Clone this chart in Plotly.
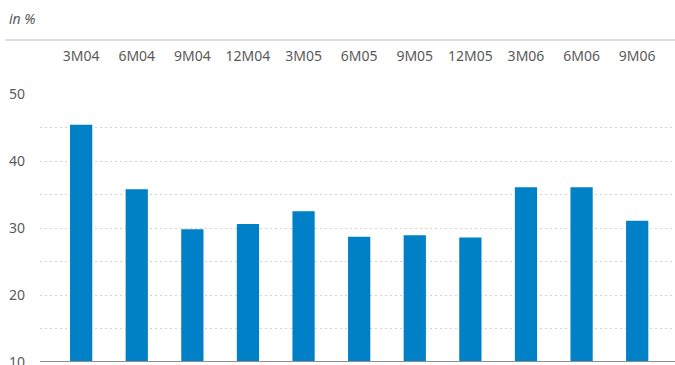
import plotly.graph_objects as go

# Quarterly periods and values (in %)
periods = ["3M04", "6M04", "9M04", "12M04", "3M05", "6M05", "9M05", "12M05", "3M06", "6M06", "9M06"]
values = [45.4, 35.8, 29.8, 30.6, 32.5, 28.7, 28.9, 28.6, 36.1, 36.1, 31.1]

font_family = "Noto Sans, Open Sans, sans-serif"
text_grey = "#5a5a5a"
grid_grey = "#d4d4d4"

fig = go.Figure()
fig.add_trace(go.Bar(
    x=periods,
    y=values,
    width=0.4,
    marker=dict(color="#0080c6", line=dict(width=0)),
))

fig.update_layout(
    width=675,
    height=365,
    margin=dict(l=40, r=0, t=94, b=3),
    plot_bgcolor="white",
    paper_bgcolor="white",
    showlegend=False,
    font=dict(family=font_family, size=14, color=text_grey),
    xaxis=dict(
        side="top",
        range=[-0.74, 10.68],
        automargin=False,
        showgrid=False,
        showline=False,
        ticks="",
        ticklabelstandoff=29,
        tickfont=dict(size=14, color=text_grey),
    ),
    yaxis=dict(
        range=[10, 50],
        dtick=10,
        tick0=10,
        automargin=False,
        showgrid=True,
        gridcolor=grid_grey,
        griddash="2px,3px",
        gridwidth=1,
        minor=dict(dtick=5, showgrid=True, gridcolor=grid_grey, griddash="2px,3px", gridwidth=1),
        zeroline=False,
        showline=False,
        ticks="",
        ticklabelstandoff=14,
        ticklabeloverflow="allow",
        tickfont=dict(size=14, color=text_grey),
    ),
)

# baseline at 10
fig.add_shape(type="line", xref="paper", yref="y", x0=0, x1=1, y0=10, y1=10,
              line=dict(color="#8f8f8f", width=2))
# thin rule under the unit label
fig.add_shape(type="line", xref="paper", yref="paper", x0=-0.055, x1=1, y0=1.2015, y1=1.2015,
              line=dict(color="#dcdcdc", width=2))

fig.add_annotation(text="<i>in %</i>", xref="paper", yref="paper", x=-0.052, y=1.283,
                   xanchor="left", yanchor="middle", showarrow=False,
                   font=dict(size=14, color=text_grey))

# remove the default page margin so the chart sits at the window origin
fig.write_html("out.html", config={"displayModeBar": False},
               post_script="document.body.style.margin='0';")
